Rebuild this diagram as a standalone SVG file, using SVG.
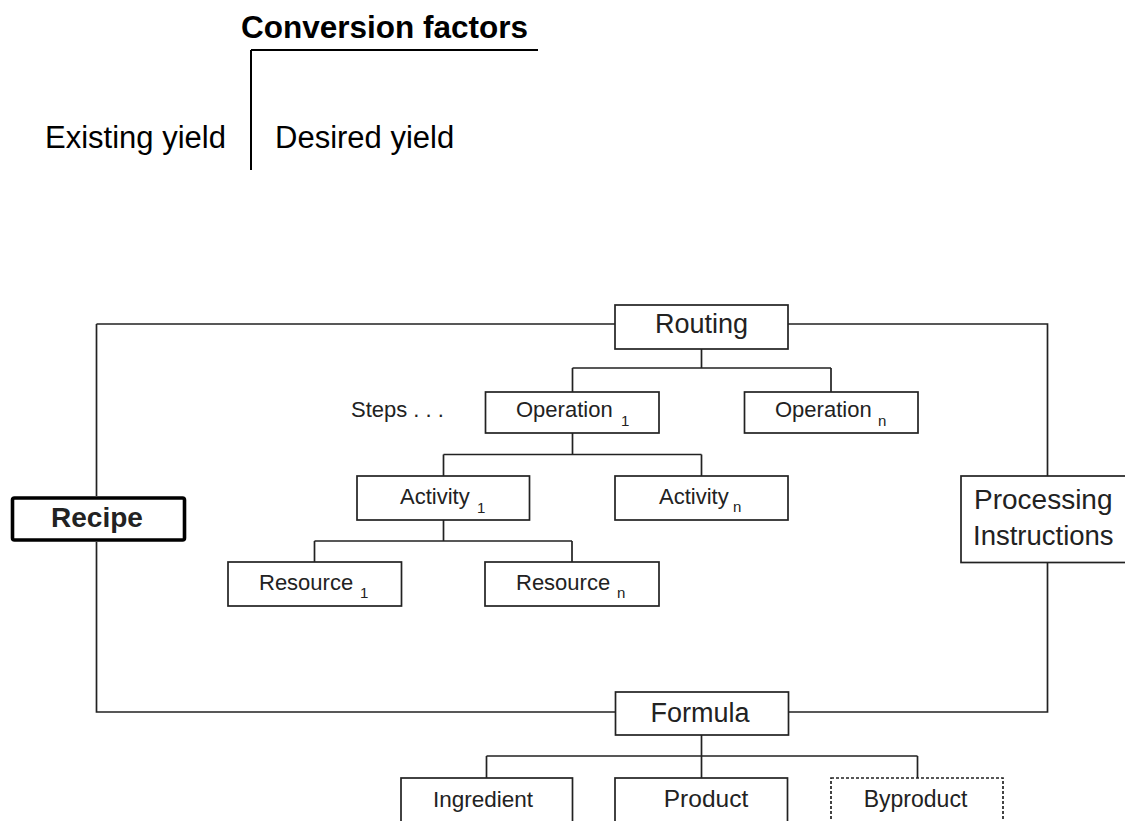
<svg xmlns="http://www.w3.org/2000/svg" width="1125" height="821" viewBox="0 0 1125 821">
<style>
.box{fill:#fff;stroke:#222;stroke-width:1.7}
.ln{fill:none;stroke:#222;stroke-width:1.7}
.t{font-family:"Liberation Sans",Arial,sans-serif;fill:#222}
.s{font-size:22px}
.m{font-size:27px}
.sub{font-size:15px}
.big{font-family:"Liberation Sans",Arial,sans-serif;fill:#000;font-size:31px}
</style>
<rect width="1125" height="821" fill="#fff"/>
<g id="conversion">
<text class="big" x="241" y="38" font-weight="bold" font-size="31.5" textLength="287" lengthAdjust="spacingAndGlyphs">Conversion factors</text>
<path d="M251,50 H538 M251,50 V170" fill="none" stroke="#000" stroke-width="2"/>
<text class="big" x="45" y="148">Existing yield</text>
<text class="big" x="275" y="148">Desired yield</text>
</g>
<g id="connectors">
<path class="ln" d="M96.5,324 H615 M788,324 H1047.5 V476 M1047.5,562 V712 H788 M615,712 H96.5 V542 M96.5,496 V324"/>
<path class="ln" d="M701.5,349 V368 M572.5,368 H831 M572.5,368 V392 M831,368 V392"/>
<path class="ln" d="M572.5,433 V454.5 M443.5,454.5 H701.5 M443.5,454.5 V476 M701.5,454.5 V476"/>
<path class="ln" d="M443.5,520 V541 M314.5,541 H572 M314.5,541 V562 M572,541 V562"/>
<path class="ln" d="M701.5,735 V756 M486.5,756 H917.5 M486.5,756 V778 M701.5,756 V778 M917.5,756 V778"/>
</g>
<g id="recipe">
<rect x="12.5" y="498" width="172" height="42" rx="2" fill="#fff" stroke="#000" stroke-width="3.6"/>
<text class="t" x="97" y="527" font-size="28" font-weight="bold" text-anchor="middle" fill="#000">Recipe</text>
</g>
<g id="routing">
<rect class="box" x="615" y="305" width="173" height="44"/>
<text class="t m" x="701.5" y="333" text-anchor="middle">Routing</text>
</g>
<g id="steps">
<text class="t s" x="351" y="417">Steps . . .</text>
</g>
<g id="operation1">
<rect class="box" x="485.5" y="392" width="173.5" height="41"/>
<text class="t s" x="516" y="417">Operation</text>
<text class="t sub" x="621" y="426">1</text>
</g>
<g id="operationn">
<rect class="box" x="744.5" y="392" width="173.5" height="41"/>
<text class="t s" x="775" y="417">Operation</text>
<text class="t sub" x="878" y="426">n</text>
</g>
<g id="activity1">
<rect class="box" x="357" y="476" width="172.5" height="44"/>
<text class="t s" x="400" y="504">Activity</text>
<text class="t sub" x="477" y="513">1</text>
</g>
<g id="activityn">
<rect class="box" x="615" y="476" width="173" height="44"/>
<text class="t s" x="659" y="504">Activity</text>
<text class="t sub" x="733" y="512">n</text>
</g>
<g id="resource1">
<rect class="box" x="228" y="562" width="173.5" height="44"/>
<text class="t s" x="259" y="590">Resource</text>
<text class="t sub" x="360" y="598">1</text>
</g>
<g id="resourcen">
<rect class="box" x="485" y="562" width="174" height="44"/>
<text class="t s" x="516" y="590">Resource</text>
<text class="t sub" x="617" y="598">n</text>
</g>
<g id="processing">
<rect class="box" x="961" y="476" width="170" height="86.5"/>
<text class="t" x="974" y="509" font-size="28">Processing</text>
<text class="t" x="973" y="545" font-size="27.5">Instructions</text>
</g>
<g id="formula">
<rect class="box" x="615.5" y="692" width="173" height="43"/>
<text class="t m" x="700" y="722" text-anchor="middle">Formula</text>
</g>
<g id="ingredient">
<rect class="box" x="401" y="778" width="171.5" height="46"/>
<text class="t" x="483" y="807" font-size="22.5" text-anchor="middle">Ingredient</text>
</g>
<g id="product">
<rect class="box" x="615" y="778" width="172.5" height="46"/>
<text class="t" x="706" y="807" font-size="24.5" text-anchor="middle">Product</text>
</g>
<g id="byproduct">
<rect class="box" x="831" y="778" width="172" height="46" stroke-dasharray="3 2"/>
<text class="t" x="915.5" y="807" font-size="23" text-anchor="middle">Byproduct</text>
</g>
</svg>
